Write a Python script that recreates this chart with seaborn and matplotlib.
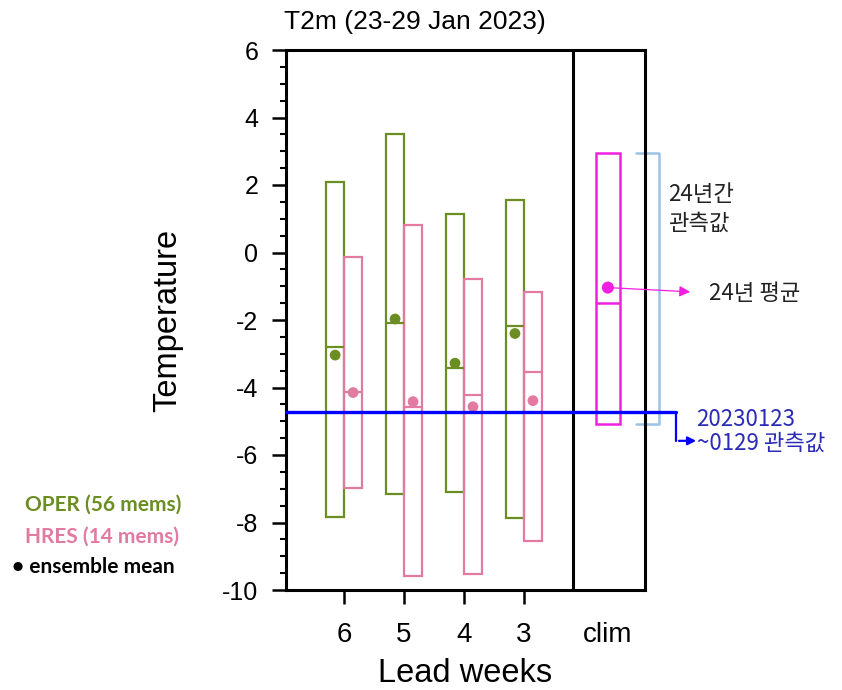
import matplotlib
matplotlib.use("Agg")
import matplotlib.pyplot as plt
import seaborn as sns
import numpy as np

# values (deg C)
leads = ["6", "5", "4", "3"]
oper_max = [2.08, 3.51, 1.14, 1.56]
oper_min = [-7.83, -7.17, -7.11, -7.86]
oper_median = [-2.79, -2.10, -3.43, -2.18]
oper_mean = [-3.04, -1.97, -3.28, -2.40]
hres_max = [-0.12, 0.81, -0.79, -1.16]
hres_min = [-6.97, -9.59, -9.53, -8.54]
hres_median = [-4.12, -4.59, -4.22, -3.55]
hres_mean = [-4.15, -4.42, -4.57, -4.39]
clim_max = 2.96
clim_min = -5.08
clim_median = -1.51
clim_mean = -1.04
obs_week = -4.72

green = "#6b8e23"
pink = "#e27aa2"
magenta = "#f21ee2"
blue = "#0000ff"
navy = "#2b2bb5"
lightblue = "#9cc3e6"

sns.set_style("ticks")
plt.rcParams["font.family"] = ["Liberation Sans", "DejaVu Sans"]
plt.rcParams["axes.unicode_minus"] = False
for k in ["text.color", "axes.labelcolor", "xtick.color", "ytick.color"]:
    plt.rcParams[k] = "black"
korean = ["Noto Sans CJK KR", "DejaVu Sans"]

fig = plt.figure(figsize=(8.42, 6.9), dpi=100)
ax = fig.add_axes([286 / 842, 1 - 590 / 690, 359 / 842, 540 / 690])

x = np.arange(len(leads))
w = 0.3
clim_x = 4.4

# ensemble spread boxes
ax.bar(x - w / 2, np.subtract(oper_max, oper_min), width=w, bottom=oper_min,
       fill=False, edgecolor=green, linewidth=1.6, zorder=3)
ax.bar(x + w / 2, np.subtract(hres_max, hres_min), width=w, bottom=hres_min,
       fill=False, edgecolor=pink, linewidth=1.6, zorder=3)
ax.bar([clim_x], [clim_max - clim_min], width=0.4, bottom=[clim_min],
       fill=False, edgecolor=magenta, linewidth=1.8, zorder=3)

# medians
ax.hlines(oper_median, x - w, x, color=green, linewidth=1.6, zorder=3)
ax.hlines(hres_median, x, x + w, color=pink, linewidth=1.6, zorder=3)
ax.hlines([clim_median], clim_x - 0.2, clim_x + 0.2, color=magenta, linewidth=1.8, zorder=3)

# ensemble means
sns.scatterplot(x=x - w / 2, y=oper_mean, color=green, s=60, edgecolor="none", ax=ax, zorder=4)
sns.scatterplot(x=x + w / 2, y=hres_mean, color=pink, s=60, edgecolor="none", ax=ax, zorder=4)
sns.scatterplot(x=[clim_x], y=[clim_mean], color=magenta, s=75, edgecolor="none", ax=ax, zorder=4)

xmin, xmax = -0.97, 5.02
ax.set_xlim(xmin, xmax)
ax.set_ylim(-10, 6)
ax.axvline(3.82, color="black", linewidth=2.2, zorder=2)

# observed week mean, running past the frame to its label
step_x = 5.54
ax.plot([xmin, step_x], [obs_week, obs_week], color=blue, linewidth=2.4,
        clip_on=False, zorder=5)
ax.plot([step_x, step_x], [obs_week, obs_week - 0.86], color=blue, linewidth=1.6,
        clip_on=False, zorder=5)
ax.annotate("", xy=(5.92, obs_week - 0.86), xytext=(step_x, obs_week - 0.86),
            arrowprops=dict(arrowstyle="-|>", color=blue, lw=1.6, mutation_scale=12),
            annotation_clip=False)

# bracket over the climatology range
bx0, bx1 = 4.87, 5.26
ax.plot([bx0, bx1, bx1, bx0], [clim_max, clim_max, clim_min, clim_min],
        color=lightblue, linewidth=1.8, clip_on=False, zorder=1)

# arrow from climatological mean to its label
ax.annotate("", xy=(5.82, clim_mean - 0.13), xytext=(clim_x, clim_mean),
            arrowprops=dict(arrowstyle="-|>", color=magenta, lw=0.9, mutation_scale=16),
            annotation_clip=False)

ax.set_xticks(list(x) + [clim_x])
ax.set_xticklabels(leads + ["clim"])
ax.xaxis.get_major_ticks()[-1].tick1line.set_visible(False)
ax.set_yticks(np.arange(-10, 7, 2))
ax.set_yticks(np.arange(-10, 6.01, 0.5), minor=True)
ax.tick_params(axis="both", which="major", length=10, width=1.8, color="black")
ax.tick_params(axis="x", which="major", pad=13, labelsize=20)
ax.tick_params(axis="y", which="major", pad=10, labelsize=18)
ax.tick_params(axis="y", which="minor", length=4, width=1.5, color="black")
ax.tick_params(axis="x", which="minor", bottom=False)
for s in ax.spines.values():
    s.set_linewidth(2.2)
    s.set_color("black")

ax.set_ylabel("Temperature", fontsize=23.5)
ax.yaxis.set_label_coords(-0.285, 0.5)
ax.set_xlabel("Lead weeks", fontsize=23.5)
ax.xaxis.set_label_coords(0.5, -0.125)

fig.text(415 / 842, 1 - 22 / 690, "T2m (23-29 Jan 2023)", fontsize=19,
         ha="center", va="center")

# Korean annotations
fig.text(668 / 842, 1 - 195 / 690, "24년간", family=korean, fontsize=16, va="center",
         color="#222222")
fig.text(668 / 842, 1 - 223 / 690, "관측값", family=korean, fontsize=16, va="center",
         color="#222222")
fig.text(709 / 842, 1 - 294 / 690, "24년 평균", family=korean, fontsize=16, va="center",
         color="#222222")
fig.text(696 / 842, 1 - 420 / 690, "20230123", family=korean, fontsize=16,
         va="center", color=navy)
fig.text(697 / 842, 1 - 443 / 690, "~0129 관측값", family=korean, fontsize=16,
         va="center", color=navy)

# hand-made legend on the left
leg_font = ["Lato", "DejaVu Sans"]
fig.text(25 / 842, 1 - 505 / 690, "OPER (56 mems)", family=leg_font, fontsize=15,
         fontweight="bold", color=green, va="center")
fig.text(25 / 842, 1 - 537 / 690, "HRES (14 mems)", family=leg_font, fontsize=15,
         fontweight="bold", color=pink, va="center")
fig.text(12 / 842, 1 - 567 / 690, "\u2022 ensemble mean", family=leg_font, fontsize=15,
         fontweight="bold", color="black", va="center")

fig.savefig("out.png", dpi=100)
